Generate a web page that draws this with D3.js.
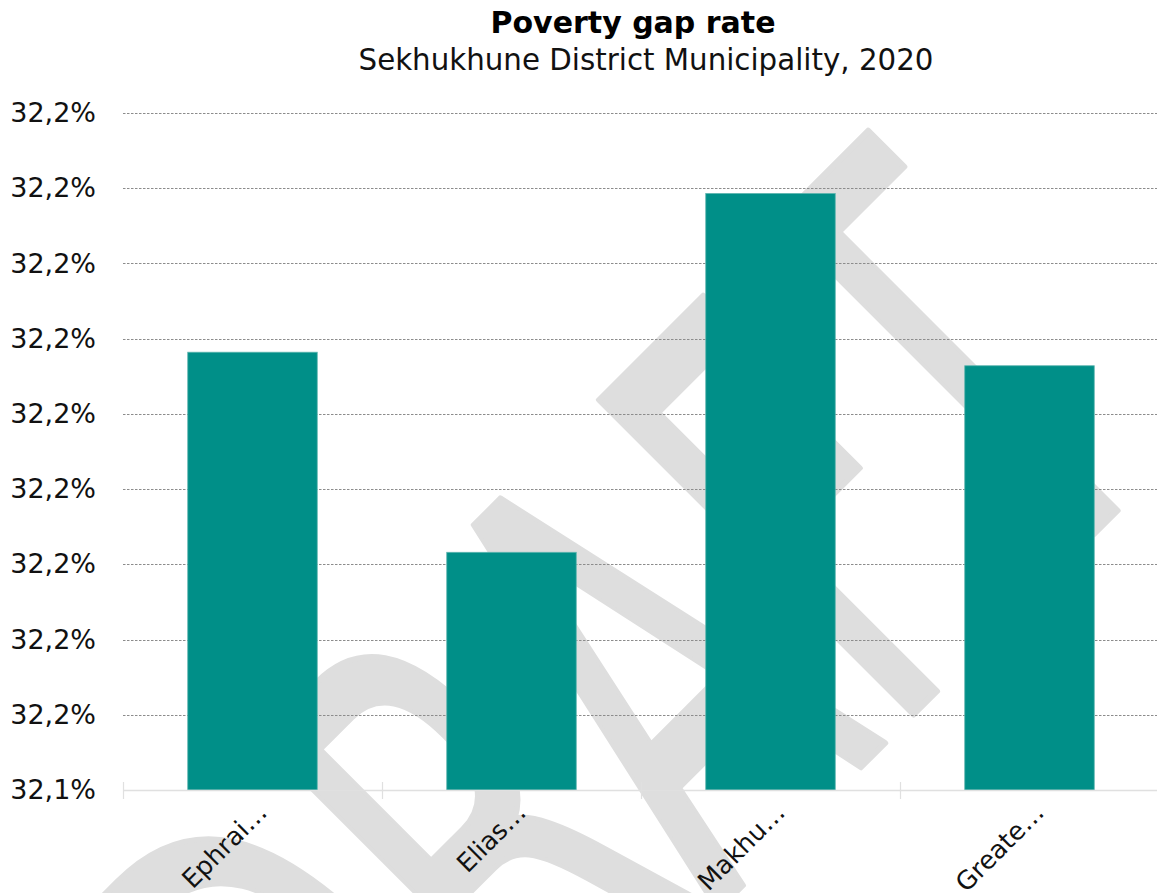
<!DOCTYPE html>
<html>
<head>
<meta charset="utf-8">
<script src="https://cdn.jsdelivr.net/npm/d3@7"></script>
<style>
  html, body { margin: 0; padding: 0; background: #fff; }
  svg { display: block; }
</style>
</head>
<body>
<svg id="chart" width="1157" height="893"></svg>
<script>
// Poverty gap rate by local municipality
const categories = ["Ephrai…", "Elias…", "Makhu…", "Greate…"];
const values = [32.1982, 32.1716, 32.2193, 32.1964];
const tickValues = [32.14, 32.15, 32.16, 32.17, 32.18, 32.19, 32.20, 32.21, 32.22, 32.23];
const tickLabels = ["32,1%", "32,2%", "32,2%", "32,2%", "32,2%", "32,2%", "32,2%", "32,2%", "32,2%", "32,2%"];

const W = 1157, H = 893;
const margin = { top: 113, right: -2, bottom: 103, left: 123 };
const FONT = "Verdana, 'DejaVu Sans', sans-serif";

const svg = d3.select("#chart");

// Watermark behind everything
const wm = {
  text: "DRAFT", size: 610, squeeze: 0.585, angle: -45, x: 356, y: 1272
};
svg.append("text")
  .attr("transform", `translate(${wm.x},${wm.y}) rotate(${wm.angle}) scale(${wm.squeeze},1)`)
  .attr("font-family", "'DejaVu Sans', sans-serif")
  .attr("font-size", wm.size)
  .attr("fill", "#dedede")
  .attr("stroke", "#dedede")
  .attr("stroke-width", 6)
  .attr("stroke-linejoin", "round")
  .text(wm.text);

const x = d3.scaleBand()
  .domain(categories)
  .range([margin.left, W - margin.right])
  .paddingInner(0.5)
  .paddingOuter(0.25);

const y = d3.scaleLinear()
  .domain([tickValues[0], tickValues[tickValues.length - 1]])
  .range([H - margin.bottom, margin.top]);

// Horizontal dashed grid
svg.append("g")
  .selectAll("line")
  .data(tickValues.slice(1))
  .join("line")
  .attr("x1", margin.left)
  .attr("x2", W)
  .attr("y1", d => Math.round(y(d)) + 0.5)
  .attr("y2", d => Math.round(y(d)) + 0.5)
  .attr("stroke", "#8c8c8c")
  .attr("stroke-width", 1)
  .attr("stroke-dasharray", "2.5,1.5");

// Y axis labels
const yAxis = d3.axisLeft(y)
  .tickValues(tickValues)
  .tickFormat((d, i) => tickLabels[i])
  .tickSize(0)
  .tickPadding(27);
const gy = svg.append("g")
  .attr("transform", `translate(${margin.left},0)`)
  .call(yAxis);
gy.select(".domain").remove();
gy.selectAll("text")
  .attr("font-family", FONT)
  .attr("font-size", 27)
  .attr("fill", "#111");

// Bars
svg.append("g")
  .selectAll("rect")
  .data(values)
  .join("rect")
  .attr("x", (d, i) => x(categories[i]))
  .attr("width", x.bandwidth())
  .attr("y", d => y(d))
  .attr("height", d => y(tickValues[0]) - y(d))
  .attr("fill", "#008f88")
  .attr("stroke", "#5cb5af")
  .attr("stroke-width", 0.8);

// X axis baseline and band ticks
const baseY = y(tickValues[0]);
svg.append("line")
  .attr("x1", margin.left).attr("x2", W)
  .attr("y1", baseY + 0.5).attr("y2", baseY + 0.5)
  .attr("stroke", "#e0e0e0").attr("stroke-width", 1.5);
svg.append("g")
  .selectAll("line")
  .data(categories)
  .join("line")
  .attr("x1", d => Math.round(x(d) - x.step() * x.paddingInner() / 2) + 0.5)
  .attr("x2", d => Math.round(x(d) - x.step() * x.paddingInner() / 2) + 0.5)
  .attr("y1", baseY - 8)
  .attr("y2", baseY + 9)
  .attr("stroke", "#e0e0e0")
  .attr("stroke-width", 1.2);

// Category labels, rotated
svg.append("g")
  .selectAll("text")
  .data(categories)
  .join("text")
  .attr("transform", d => `translate(${x(d) + x.bandwidth() / 2 + 16},${baseY + 24}) rotate(-45)`)
  .attr("text-anchor", "end")
  .attr("font-family", FONT)
  .attr("font-size", 25.5)
  .attr("fill", "#111")
  .text(d => d);

// Titles
const cx = (margin.left + W - margin.right) / 2 + 3;
svg.append("text")
  .attr("x", cx - 11).attr("y", 33)
  .attr("text-anchor", "middle")
  .attr("font-family", FONT)
  .attr("font-weight", "bold")
  .attr("font-size", 30)
  .attr("fill", "#000")
  .text("Poverty gap rate");
svg.append("text")
  .attr("x", cx + 2).attr("y", 70)
  .attr("text-anchor", "middle")
  .attr("font-family", FONT)
  .attr("font-size", 29.3)
  .attr("fill", "#111")
  .text("Sekhukhune District Municipality, 2020");
</script>
</body>
</html>
